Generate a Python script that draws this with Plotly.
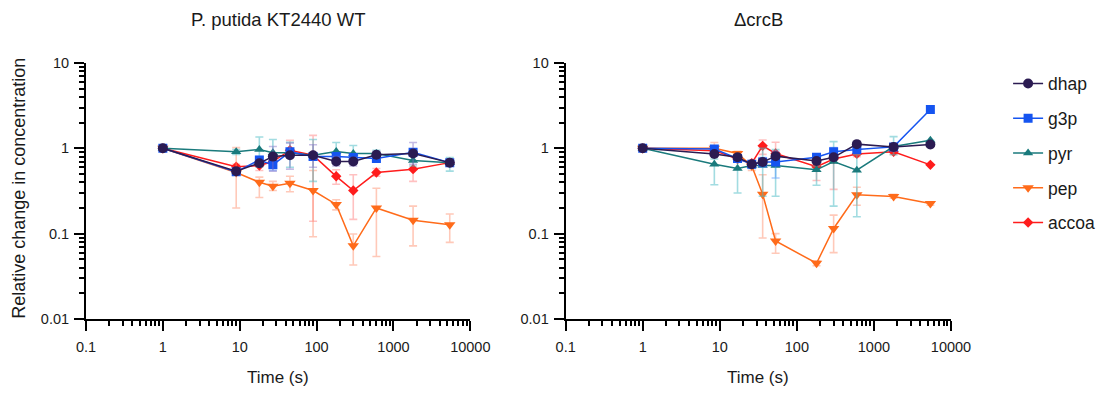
import math
import plotly.graph_objects as go

# ---------------- data ----------------
series_names = ["dhap", "g3p", "pyr", "pep", "accoa"]

t_wt = [1, 9, 18, 27, 45, 90, 180, 300, 600, 1800, 5400]
t_ko = [1, 8.5, 17, 26, 36, 53, 180, 300, 600, 1800, 5400]

# WT values
dhap_wt = [1, 0.54, 0.67, 0.80, 0.83, 0.83, 0.70, 0.70, 0.84, 0.87, 0.68]
g3p_wt = [1, 0.53, 0.73, 0.64, 0.91, 0.80, 0.80, 0.78, 0.76, 0.90, 0.68]
pyr_wt = [1, 0.91, 0.97, 0.89, 0.89, 0.83, 0.92, 0.87, 0.87, 0.72, 0.68]
pep_wt = [1, 0.52, 0.40, 0.36, 0.39, 0.32, 0.22, 0.072, 0.20, 0.144, 0.127]
accoa_wt = [1, 0.61, 0.63, 0.70, 0.95, 0.83, 0.47, 0.32, 0.52, 0.57, 0.68]

# WT error bounds (lower / upper)
dhap_wt_lo = [None, None, 0.62, 0.54, 0.57, 0.60, 0.62, 0.62, 0.78, 0.65, 0.62]
dhap_wt_hi = [None, None, 0.72, 1.05, 1.15, 1.10, 0.80, 0.78, 0.92, 1.17, 0.74]
g3p_wt_lo = [None, 0.50, 0.65, 0.55, 0.85, 0.75, 0.75, 0.72, 0.70, 0.85, None]
g3p_wt_hi = [None, 0.57, 0.80, 0.72, 0.98, 0.86, 0.86, 0.84, 0.82, 0.96, None]
pyr_wt_lo = [None, 0.85, 0.60, 0.62, 0.60, 0.41, 0.75, 0.70, 0.80, 0.62, 0.54]
pyr_wt_hi = [None, 0.97, 1.36, 1.27, 1.18, 1.27, 1.17, 1.08, 0.95, 0.85, 0.78]
pep_wt_lo = [None, 0.20, 0.265, 0.32, 0.31, 0.092, 0.19, 0.043, 0.054, 0.072, 0.079]
pep_wt_hi = [None, 1.02, 0.46, 0.41, 0.47, 0.55, 0.25, 0.099, 0.34, 0.21, 0.17]
accoa_wt_lo = [None, 0.55, 0.55, None, 0.85, 0.14, 0.38, 0.147, 0.47, 0.41, None]
accoa_wt_hi = [None, 0.65, 0.70, None, 1.24, 1.42, 0.56, 0.49, 0.58, 0.72, None]

# crcB knockout values
dhap_ko = [1, 0.86, 0.785, 0.65, 0.69, 0.81, 0.71, 0.785, 1.12, 1.04, 1.11]
g3p_ko = [1, 0.98, 0.76, 0.65, 0.69, 0.69, 0.785, 0.91, 0.97, 1.04, 2.85]
pyr_ko = [1, 0.65, 0.58, 0.63, 0.63, 0.63, 0.56, 0.70, 0.555, 1.05, 1.24]
pep_ko = [1, 1.0, 0.87, 0.62, 0.29, 0.082, 0.045, 0.115, 0.285, 0.273, 0.225]
accoa_ko = [1, 0.94, 0.75, 0.67, 1.07, 0.87, 0.61, 0.75, 0.86, 0.91, 0.64]

dhap_ko_lo = [None] * 11
dhap_ko_hi = [None] * 11
g3p_ko_lo = [None, 0.90, 0.70, None, 0.60, 0.45, 0.72, 0.80, None, None, None]
g3p_ko_hi = [None, 1.06, 0.82, None, 0.78, 0.92, 0.85, 1.02, None, None, None]
pyr_ko_lo = [None, 0.375, 0.30, 0.58, 0.275, 0.275, 0.37, 0.21, 0.158, 0.84, None]
pyr_ko_hi = [None, 0.75, 0.75, 0.68, 1.00, 0.97, 0.62, 1.20, 0.84, 1.37, None]
pep_ko_lo = [None, 0.92, 0.80, 0.55, 0.089, 0.059, 0.042, 0.06, 0.215, 0.26, 0.215]
pep_ko_hi = [None, 1.17, 0.92, 0.66, 0.49, 0.10, 0.048, 0.165, 0.35, 0.29, 0.235]
accoa_ko_lo = [None, 0.85, 0.70, 0.62, 0.85, 0.70, 0.42, 0.33, 0.80, 0.85, None]
accoa_ko_hi = [None, 1.05, 0.80, 0.72, 1.25, 1.18, 0.70, 0.85, 0.92, 0.97, None]

x_ticks = [0.1, 1, 10, 100, 1000, 10000]
x_tick_labels = ["0.1", "1", "10", "100", "1000", "10000"]
y_ticks = [0.01, 0.1, 1, 10]
y_tick_labels = ["0.01", "0.1", "1", "10"]

# ---------------- styles ----------------
colors = {
    "dhap": "#2b1b52",
    "g3p": "#1554f0",
    "pyr": "#1a7a7c",
    "pep": "#ff6b1a",
    "accoa": "#ff1c1c",
}
err_colors = {
    "dhap": "rgba(125,105,195,0.45)",
    "g3p": "rgba(70,140,255,0.45)",
    "pyr": "rgba(70,185,195,0.50)",
    "pep": "rgba(255,135,100,0.45)",
    "accoa": "rgba(255,100,100,0.40)",
}
symbols = {
    "dhap": "circle",
    "g3p": "square",
    "pyr": "triangle-up",
    "pep": "triangle-down",
    "accoa": "diamond",
}
sizes = {"dhap": 10, "g3p": 9, "pyr": 9, "pep": 10, "accoa": 8}

wt = {
    "dhap": (dhap_wt, dhap_wt_lo, dhap_wt_hi),
    "g3p": (g3p_wt, g3p_wt_lo, g3p_wt_hi),
    "pyr": (pyr_wt, pyr_wt_lo, pyr_wt_hi),
    "pep": (pep_wt, pep_wt_lo, pep_wt_hi),
    "accoa": (accoa_wt, accoa_wt_lo, accoa_wt_hi),
}
ko = {
    "dhap": (dhap_ko, dhap_ko_lo, dhap_ko_hi),
    "g3p": (g3p_ko, g3p_ko_lo, g3p_ko_hi),
    "pyr": (pyr_ko, pyr_ko_lo, pyr_ko_hi),
    "pep": (pep_ko, pep_ko_lo, pep_ko_hi),
    "accoa": (accoa_ko, accoa_ko_lo, accoa_ko_hi),
}


def errs(vals, lo, hi):
    plus = [(h - v) if h is not None else float("nan") for v, h in zip(vals, hi)]
    minus = [(v - l) if l is not None else float("nan") for v, l in zip(vals, lo)]
    return plus, minus


fig = go.Figure()
draw_order = ["accoa", "pep", "pyr", "g3p", "dhap"]
for panel, (times, data, xa, ya) in enumerate(
    [(t_wt, wt, "x", "y"), (t_ko, ko, "x2", "y2")]
):
    for name in draw_order:
        vals, lo, hi = data[name]
        plus, minus = errs(vals, lo, hi)
        fig.add_trace(
            go.Scatter(
                x=times,
                y=vals,
                mode="lines+markers",
                name=name,
                xaxis=xa,
                yaxis=ya,
                showlegend=(panel == 0),
                legendgroup=name,
                legendrank=series_names.index(name) + 1,
                line=dict(color=colors[name], width=1.5),
                marker=dict(symbol=symbols[name], size=sizes[name], color=colors[name]),
                error_y=dict(
                    type="data",
                    symmetric=False,
                    array=plus,
                    arrayminus=minus,
                    color=err_colors[name],
                    thickness=1.6,
                    width=4,
                ),
            )
        )

axis_common = dict(
    type="log",
    showline=True,
    linecolor="black",
    linewidth=2,
    ticks="outside",
    ticklen=10,
    tickwidth=2,
    tickcolor="black",
    showgrid=False,
    zeroline=False,
    tickmode="array",
    tickfont=dict(size=14.5, color="#1a1a1a"),
    minor=dict(ticks="outside", ticklen=5, tickwidth=2, tickcolor="black", dtick="D1", showgrid=False),
)
x_axis = dict(
    range=[math.log10(x_ticks[0]), math.log10(x_ticks[-1])],
    tickvals=x_ticks, ticktext=x_tick_labels, ticklabelstandoff=4, **axis_common
)
y_axis = dict(
    range=[math.log10(y_ticks[0]), math.log10(y_ticks[-1])],
    tickvals=y_ticks, ticktext=y_tick_labels, ticklabelstandoff=2, **axis_common
)

# page body has an 8px default margin: figure is sized to compensate
fig.update_layout(
    width=1104,
    height=388,
    margin=dict(l=78, r=155, t=55, b=77),
    paper_bgcolor="white",
    plot_bgcolor="white",
    font=dict(family="Liberation Sans, Arial, sans-serif", color="#1a1a1a"),
    xaxis=dict(domain=[0, 0.4443], anchor="y", **x_axis),
    yaxis=dict(domain=[0, 1], anchor="x", **y_axis),
    xaxis2=dict(domain=[0.5545, 1.0], anchor="y2", **x_axis),
    yaxis2=dict(domain=[0, 1], anchor="x2", **y_axis),
    legend=dict(
        x=1.066,
        y=0.99,
        xanchor="left",
        yanchor="top",
        font=dict(size=17.5, color="#1a1a1a"),
        tracegroupgap=9,
        itemwidth=30,
        bgcolor="rgba(0,0,0,0)",
    ),
    annotations=[
        dict(text="P. putida KT2440 WT", x=0.222, y=1.168, xref="paper", yref="paper",
             showarrow=False, font=dict(size=18.5), xanchor="center", yanchor="middle"),
        dict(text="ΔcrcB", x=0.777, y=1.168, xref="paper", yref="paper",
             showarrow=False, font=dict(size=18.5), xanchor="center", yanchor="middle"),
        dict(text="Time (s)", x=0.222, y=-0.23, xref="paper", yref="paper",
             showarrow=False, font=dict(size=17), xanchor="center", yanchor="middle"),
        dict(text="Time (s)", x=0.777, y=-0.23, xref="paper", yref="paper",
             showarrow=False, font=dict(size=17), xanchor="center", yanchor="middle"),
        dict(text="Relative change in concentration", x=-0.077, y=0.51, xref="paper", yref="paper",
             showarrow=False, font=dict(size=18), textangle=-90, xanchor="center", yanchor="middle"),
    ],
)

fig.write_html("out.html")
